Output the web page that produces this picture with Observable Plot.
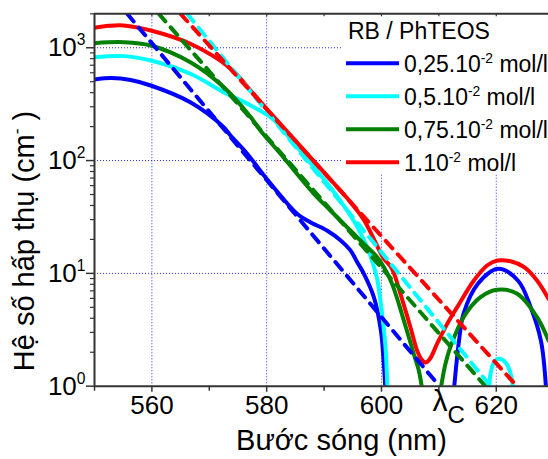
<!DOCTYPE html>
<html><head><meta charset="utf-8">
<script src="https://cdn.jsdelivr.net/npm/d3@7"></script>
<script src="https://cdn.jsdelivr.net/npm/@observablehq/plot@0.6"></script>
<style>
body{margin:0;background:#fff;}
#chart{position:relative;width:548px;height:459px;overflow:hidden;}
</style></head><body><div id="chart"></div>
<script>
// ---------- data ----------
const seriesNames  = ["0,25.10^{-2} mol/l", "0,5.10^{-2} mol/l", "0,75.10^{-2} mol/l", "1.10^{-2} mol/l"];
const seriesColors = ["#0000ff", "#00ffff", "#008000", "#ff0000"];
const legendTitle = "RB / PhTEOS";

const blueX = [550.0, 553.0, 556.3, 559.8, 566.7, 572.5, 573.7, 576.6, 579.5, 582.4, 585.3, 587.6, 590.5, 592.9, 594.6, 595.8, 596.9, 598.7, 599.9, 600.4, 600.7, null, 612.6, 613.5, 614.3, 616.8, 620.3, 623.8, 626.0, 627.8, 628.7];
const blueY = [524, 540, 518, 463, 329, 198, 167, 115, 74, 49, 33.8, 28.4, 24.0, 19.6, 16.0, 12.5, 10.0, 6.1, 3.1, 1.6, 0.9, null, 0.9, 2.5, 4.4, 8.1, 11.0, 8.6, 5.0, 2.5, 0.9];

const cyanX = [550.0, 555.1, 559.8, 566.7, 572.5, 577.2, 581.0, 582.7, 585.3, 588.2, 591.1, 594.0, 595.8, 597.5, 598.7, 599.3, 600.1, 600.7, 601.05, null, 618.7, 619.0, 619.6, 620.45, 621.6, 622.5, 622.95];
const cyanY = [825, 843, 771, 588, 404, 308, 235, 190, 132, 88, 58, 36.1, 25.7, 17.1, 11.4, 8.65, 4.41, 2.22, 0.9, null, 0.9, 1.29, 1.63, 1.75, 1.63, 1.29, 0.9];

const greenX = [550.0, 555.1, 559.8, 566.7, 572.5, 577.2, 578.9, 582.4, 585.3, 588.2, 591.1, 594.0, 596.9, 599.25, 601.6, 603.9, 605.6, 606.5, 607.15, null, 610.25, 611.15, 612.0, 614.3, 617.25, 620.15, 623.65, 627.1, 629.1];
const greenY = [1099, 1121, 1048, 745, 448, 243, 185, 115, 76, 51, 36.1, 25.7, 18.3, 13.9, 8.65, 3.82, 1.95, 1.38, 0.9, null, 0.9, 1.58, 2.22, 4.09, 6.15, 7.15, 6.6, 4.09, 2.54];

const redX = [550.0, 552.5, 555.1, 559.8, 566.7, 573.7, 577.2, 580.7, 583.3, 588.2, 591.1, 594.0, 596.9, 598.7, 600.4, 601.6, 602.3, 603.3, 605.05, 606.2, 607.0, 607.7, 608.45, 609.7, 611.45, 613.2, 616.1, 618.4, 620.2, 622.5, 624.8, 627.1, 629.1];
const redY = [1504, 1565, 1577, 1423, 1085, 656, 418, 262, 187, 99, 68, 46.5, 30, 20, 13.5, 11.5, 9.6, 6.6, 3.33, 2.07, 1.72, 1.62, 1.75, 2.38, 3.57, 5.02, 8.65, 11.75, 13.0, 12.8, 11.4, 8.65, 5.95];

// tangent (dashed) lines: [start, end] wavelength and value
const tangentX = [[555.7, 610.1], [566.15, 619.0], [561.2, 618.1], [565.0, 623.6]];
const tangentY = [2000, 1];

const xTicks = [560, 580, 600, 620];
const xMinorTicks = [550, 570, 590, 610];
const xTopTicks = [560, 570, 580, 590, 600, 610, 620];
const yTicks = [1, 10, 100, 1000];
const yMinorTicks = [2,3,4,5,6,7,8,9,20,30,40,50,60,70,80,90,200,300,400,500,600,700,800,900,2000];
const xDomain = [550, 629.1];
const yDomain = [1, 2000];

const xTitle = "Bước sóng (nm)";
const yTitle = "Hệ số hấp thụ (cm^{-} )";
const lambdaLabel = "λ_{C}";
const lambdaX = 608.9;

// ---------- build rows ----------
const solidX = [blueX, cyanX, greenX, redX];
const solidY = [blueY, cyanY, greenY, redY];
const solidRows = [];
seriesNames.forEach((s, i) => {
  solidX[i].forEach((x, j) => solidRows.push({s, x: x == null ? NaN : x, y: solidY[i][j] == null ? NaN : solidY[i][j]}));
});
const dashRows = [];
seriesNames.forEach((s, i) => {
  tangentX[i].forEach((x, j) => dashRows.push({s, x, y: tangentY[j]}));
});

// layout
const W = 548, H = 459, mL = 94, mR = 0, mT = 13.3, mB = 73.3;
const pxPerDecade = (H - mT - mB) / Math.log10(yDomain[1] / yDomain[0]);
const topTickEnd = yDomain[1] * Math.pow(10, -3 / pxPerDecade);
const gridStopX = 593.2;   // where horizontal grid lines meet the legend area
const gridStopY = 74;      // where vertical grid lines meet the legend area

const font = 'Arial, "Liberation Sans", Helvetica, sans-serif';
const gridStyle = {stroke: "#2828ff", strokeWidth: 1, strokeDasharray: "1,2"};

const plot = Plot.plot({
  width: W, height: H,
  marginLeft: mL, marginRight: mR, marginTop: mT, marginBottom: mB,
  x: {domain: xDomain, label: null},
  y: {type: "log", domain: yDomain, label: null},
  color: {domain: seriesNames, range: seriesColors},
  style: {fontFamily: font, color: "#000", background: "#fff", overflow: "visible"},
  marks: [
    // grid
    Plot.ruleX(xTicks.filter(d => d < gridStopX), gridStyle),
    Plot.ruleX(xTicks.filter(d => d >= gridStopX), {...gridStyle, y1: yDomain[0], y2: gridStopY}),
    Plot.ruleY(yTicks.filter(d => d > yDomain[0] && d < gridStopY), gridStyle),
    Plot.ruleY(yTicks.filter(d => d >= gridStopY), {...gridStyle, x1: xDomain[0], x2: gridStopX}),
    // curves
    Plot.line(solidRows, {x: "x", y: "y", z: "s", stroke: "s", strokeWidth: 4, curve: "catmull-rom", clip: true}),
    Plot.line(dashRows, {x: "x", y: "y", z: "s", stroke: "s", strokeWidth: 4, strokeDasharray: "10,8", clip: true}),
    // axis lines
    Plot.ruleX([xDomain[0]], {stroke: "#333", strokeWidth: 2}),
    Plot.ruleY([yDomain[0]], {stroke: "#333", strokeWidth: 2}),
    Plot.ruleY([yDomain[1]], {stroke: "#333", strokeWidth: 2}),
    Plot.ruleX(xTopTicks, {y1: yDomain[1], y2: topTickEnd, stroke: "#333", strokeWidth: 1.2}),
    // axes
    Plot.axisX(xTicks, {tickSize: 6, tickPadding: 3, fontSize: 26, stroke: "#333", strokeWidth: 1.5, label: null}),
    Plot.axisX(xMinorTicks, {tickSize: 5, stroke: "#333", strokeWidth: 1.5, tickFormat: () => "", label: null}),
    Plot.axisY(yTicks, {tickSize: 8, tickPadding: 1, fontSize: 26, stroke: "#333", strokeWidth: 1.5,
      tickFormat: d => "10^{" + Math.round(Math.log10(d)) + "}", label: null}),
    Plot.axisY(yMinorTicks, {tickSize: 4, stroke: "#333", strokeWidth: 1.2, tickFormat: () => "", label: null}),
    // titles
    Plot.text([xTitle], {text: d => d, frameAnchor: "bottom", textAnchor: "middle", lineAnchor: "middle", dx: 20, dy: 55, fontSize: 29}),
    Plot.text([yTitle], {text: d => d, frameAnchor: "left", textAnchor: "middle", lineAnchor: "middle", rotate: -90, dx: -70, dy: 41, fontSize: 29}),
    Plot.text([lambdaLabel], {text: d => d, x: lambdaX, y: yDomain[0], dy: 15, fontSize: 30, textAnchor: "start", lineAnchor: "middle"})
  ]
});

document.getElementById("chart").appendChild(plot);

// ---------- legend ----------
const svg = d3.select(plot);
const lg = svg.append("g").attr("font-family", font).attr("font-size", 23).attr("fill", "#000").attr("text-anchor", "start");
lg.append("text").attr("x", 348).attr("y", 39).text(legendTitle);
seriesNames.forEach((s, i) => {
  const cy = 63.3 + i * 33;
  lg.append("line").attr("x1", 346).attr("x2", 399).attr("y1", cy).attr("y2", cy)
    .attr("stroke", seriesColors[i]).attr("stroke-width", 4);
  lg.append("text").attr("x", 404).attr("y", cy + 9).text(s);
});

// ---------- rich text (superscripts / subscripts) ----------
function richify(el) {
  const s = el.textContent;
  if (!/[\^_]\{/.test(s)) return;
  const fs = parseFloat(getComputedStyle(el).fontSize) || 16;
  const parts = s.split(/([\^_]\{[^}]*\})/).filter(p => p !== "");
  el.textContent = "";
  let shift = 0;
  for (const p of parts) {
    const t = document.createElementNS("http://www.w3.org/2000/svg", "tspan");
    let target = 0, content = p, size = null;
    if (p.startsWith("^{")) { target = -0.42 * fs; content = p.slice(2, -1); size = 0.6 * fs; }
    else if (p.startsWith("_{")) { target = 0.4 * fs; content = p.slice(2, -1); size = 0.8 * fs; }
    t.setAttribute("dy", (target - shift).toFixed(2));
    shift = target;
    if (size) t.setAttribute("font-size", size.toFixed(1));
    t.textContent = content;
    el.appendChild(t);
  }
}
plot.querySelectorAll("text").forEach(richify);
</script>
</body></html>
